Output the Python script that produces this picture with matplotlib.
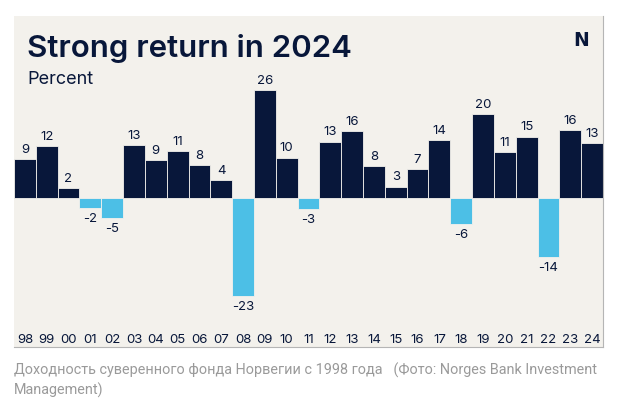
import numpy as np
import matplotlib.pyplot as plt
from matplotlib.patches import Rectangle

# annual return of the fund, percent (bar heights)
years = ['98', '99', '00', '01', '02', '03', '04', '05', '06', '07', '08', '09', '10', '11',
         '12', '13', '14', '15', '16', '17', '18', '19', '20', '21', '22', '23', '24']
returns = [9.3, 12.4, 2.4, -2.4, -4.7, 12.6, 8.9, 11.1, 7.9, 4.3, -23.3, 25.6, 9.6, -2.6,
           13.4, 16.0, 7.6, 2.7, 6.9, 13.7, -6.1, 20.0, 10.9, 14.6, -14.1, 16.1, 13.1]

navy = '#08173a'
light_blue = '#4cbfe6'
panel = '#f3f1ec'

W, H = 619, 410
fig = plt.figure(figsize=(W / 100, H / 100), dpi=100)
fig.patch.set_facecolor('white')

# beige panel behind everything
x0, x1, y0, y1 = 14, 603, 17, 348
fig.patches.append(Rectangle((x0 / W, 1 - y1 / H), (x1 - x0) / W, (y1 - y0) / H,
                             transform=fig.transFigure, facecolor=panel, edgecolor='none', zorder=-5))

ax = fig.add_axes([x0 / W, 1 - y1 / H, (x1 - x0) / W, (y1 - y0) / H])
ax.set_facecolor('none')

x = np.arange(len(years))
vals = np.array(returns)
colors = [navy if v >= 0 else light_blue for v in vals]
bars = ax.bar(x, vals, width=1.0, color=colors, edgecolor=panel, linewidth=0.6)
ax.bar_label(bars, labels=[str(int(round(v))) for v in vals], padding=3,
             fontsize=9.5, color=navy, family='Inter')

ax.set_xlim(-0.5, len(years) - 0.5)
ax.set_ylim(-35.5, 43.3)
ax.set_yticks([])
ax.set_xticks(x)
ax.set_xticklabels(years, fontsize=9.5, color=navy, family='Inter')
ax.tick_params(axis='x', length=0, pad=-10)

for s in ['left', 'top']:
    ax.spines[s].set_visible(False)
for s in ['right', 'bottom']:
    ax.spines[s].set_color('#b5b5b5')
    ax.spines[s].set_linewidth(0.8)

fig.text(27 / W, 1 - 57 / H, 'Strong return in 2024', fontsize=22.5, fontweight='semibold',
         color=navy, family='Inter', va='baseline')
fig.text(27 / W, 1 - 84 / H, 'Percent', fontsize=13, color=navy, family='Inter', va='baseline')
fig.text(581 / W, 1 - 46 / H, 'N', fontsize=13.5, fontweight='heavy', color=navy,
         family='DejaVu Sans', ha='center', va='baseline')

fig.text(14 / W, 1 - 363 / H,
         'Доходность суверенного фонда Норвегии с 1998 года   (Фото: Norges Bank Investment\nManagement)',
         fontsize=10.4, color='#9a9a9a', family='Roboto', va='top', linespacing=1.35)

fig.savefig('out.png', dpi=100, facecolor='white')
